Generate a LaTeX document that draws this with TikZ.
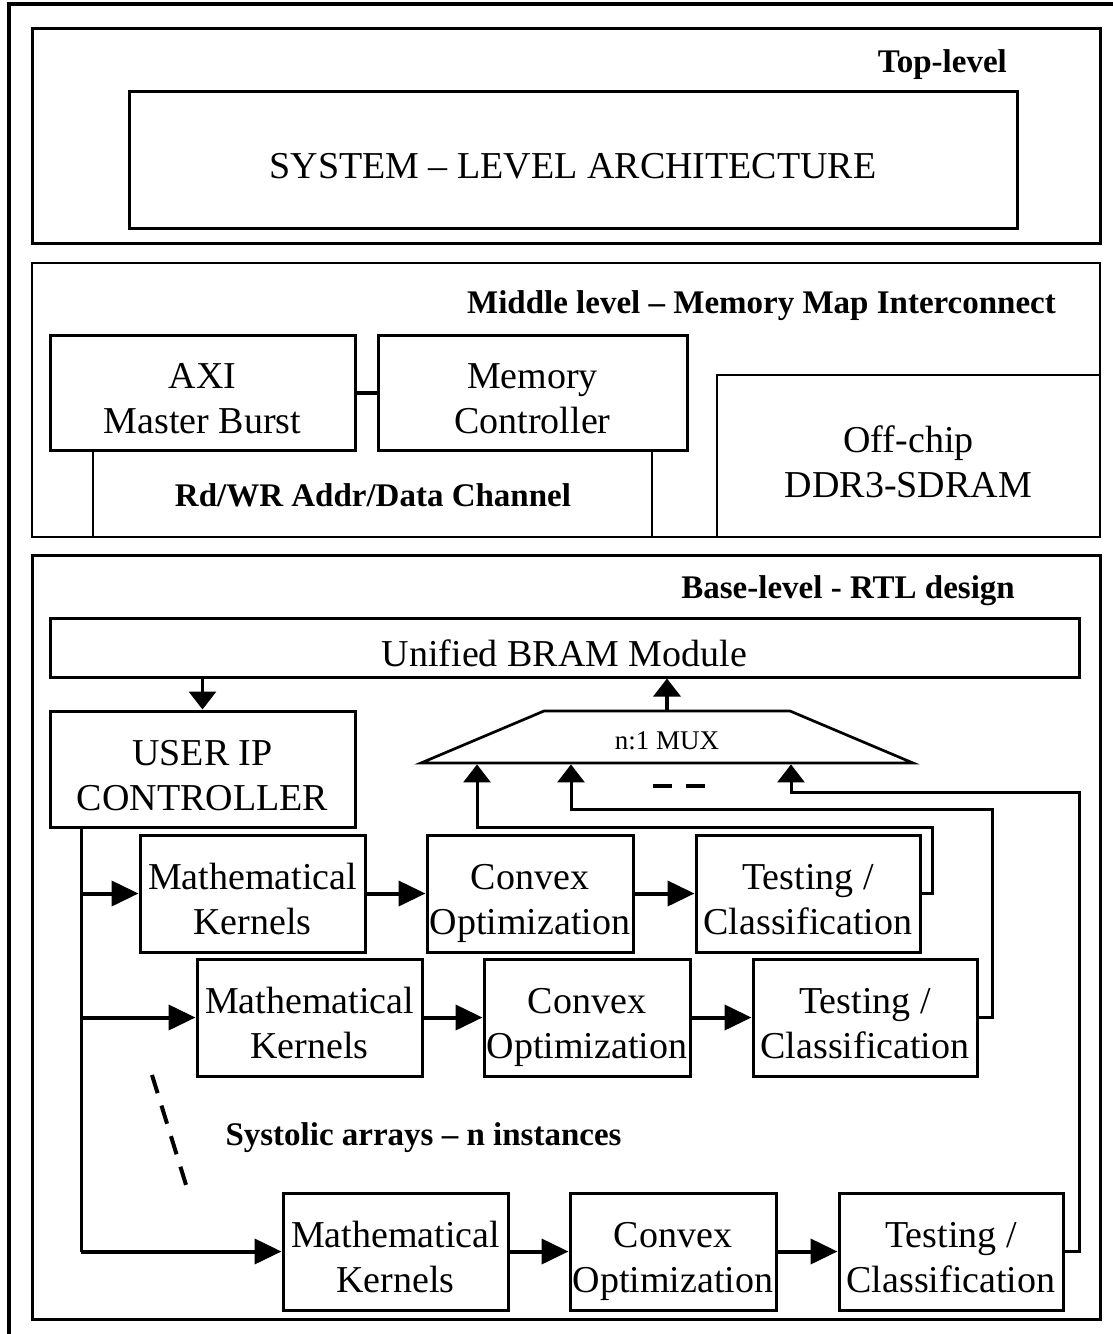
\documentclass[tikz,border=0pt]{standalone}
\usepackage{fontspec}
\setmainfont{Liberation Serif}
\usetikzlibrary{arrows.meta,positioning}
\tikzset{lvlbox/.style = {draw, line width=3pt, inner sep=0pt},
         blk/.style = {draw, line width=3pt, align=center, inner sep=0pt, minimum height=117pt,
                       text height=#1, text depth=0pt, font=\fontsize{38}{45}\selectfont},
         blk/.default = 82pt,
         title/.style = {inner sep=0pt, font=\fontsize{33}{40}\selectfont\bfseries},
         flow/.style = {line width=4pt, -{Triangle[length=27pt,width=25pt]}},
         fbline/.style = {line width=3pt},
         fbarrow/.style = {line width=3pt, -{Triangle[length=18pt,width=27pt]}},
         uparrow/.style = {line width=3.3pt, -{Triangle[length=18pt,width=27pt]}}}

\begin{document}
\begin{tikzpicture}[x=1pt,y=-1pt]
  \useasboundingbox (0,0) rectangle (1113,1334);
  \draw[line width=4pt] (9,1334) -- (9,4) -- (1113,4);

  \node[lvlbox, minimum width=1068pt, minimum height=215pt] (toplvl) at (566,135.5) {};
  \node[title, anchor=base east] (toplbl) at (1007,72) {Top-level};
  \node[blk=37pt, minimum width=888pt, minimum height=137pt] (sys) at (573,159.5) {SYSTEM – LEVEL ARCHITECTURE};

  \node[lvlbox, line width=2.7pt, minimum width=1068pt, minimum height=274pt] (mid) at (566,400) {};
  \node[title, anchor=base east] (midlbl) at (1056,313) {Middle level – Memory Map Interconnect};
  \node[blk, minimum width=305pt, minimum height=115pt] (axi) at (202.5,392.5) {AXI\\Master Burst};
  \node[blk, minimum width=309pt, minimum height=115pt] (memc) at (532.5,392.5) {Memory\\Controller};
  \node[blk, line width=2.7pt, minimum width=383pt, minimum height=162pt] (ddr) at (908.5,456) {Off-chip\\DDR3-SDRAM};
  \draw[line width=4pt] (axi) -- (memc);
  \draw[line width=2.7pt] (93,0 |- axi.south) -- (93,0 |- mid.south);
  \draw[line width=2.7pt] (652,0 |- memc.south) -- (652,0 |- mid.south);
  \node[title] (chan) at (373,495) {Rd/WR Addr/Data Channel};

  \node[lvlbox, minimum width=1068pt, minimum height=764pt] (base) at (566,937) {};
  \node[title, anchor=base east] (baselbl) at (1015,598) {Base-level - RTL design};
  \node[blk=37pt, minimum width=1029pt, minimum height=59pt] (bram) at (564.5,647.5) {Unified BRAM Module};
  \node[blk, minimum width=305pt, minimum height=116pt] (user) at (202.5,769) {USER IP\\CONTROLLER};

  \draw[line width=2.7pt] (421,763) -- (544,711) -- (790,711) -- (913,763) -- cycle;
  \node[inner sep=0pt, font=\fontsize{27}{32}\selectfont] (mux) at (667,741) {n:1 MUX};
  \coordinate (muxtop) at (667,711);
  \coordinate (in1) at (477,764.4);
  \coordinate (in2) at (571,764.4);
  \coordinate (in3) at (791,764.4);
  \draw[uparrow] (user.north |- bram.south) -- (user.north);
  \draw[uparrow] (muxtop) -- (muxtop |- bram.south);
  \draw[line width=4pt, dash pattern=on 19pt off 14pt] (653,786) -- (705,786);

  \node[blk, minimum width=225pt] (m1) at (252.5,893.5) {Mathematical\\Kernels};
  \node[blk, minimum width=206pt, right=59pt of m1] (c1) {Convex\\Optimization};
  \node[blk, minimum width=224pt, right=60pt of c1] (t1) {Testing /\\Classification};
  \node[blk, minimum width=225pt] (m2) at (309.5,1017.5) {Mathematical\\Kernels};
  \node[blk, minimum width=206pt, right=59pt of m2] (c2) {Convex\\Optimization};
  \node[blk, minimum width=224pt, right=60pt of c2] (t2) {Testing /\\Classification};
  \node[blk, minimum width=225pt] (m3) at (395.5,1251.5) {Mathematical\\Kernels};
  \node[blk, minimum width=206pt, right=59pt of m3] (c3) {Convex\\Optimization};
  \node[blk, minimum width=224pt, right=60pt of c3] (t3) {Testing /\\Classification};

  \draw[fbline] (81,0 |- user.south) -- (81,0 |- m3.west);
  \draw[flow] (81,0 |- m1.west) -- (m1.west);
  \draw[flow] (81,0 |- m2.west) -- (m2.west);
  \draw[flow] (81,0 |- m3.west) -- (m3.west);
  \draw[flow] (m1) -- (c1);
  \draw[flow] (c1) -- (t1);
  \draw[flow] (m2) -- (c2);
  \draw[flow] (c2) -- (t2);
  \draw[flow] (m3) -- (c3);
  \draw[flow] (c3) -- (t3);

  \draw[fbarrow] (t1.east) -| (932,827) -| (in1);
  \draw[fbarrow] (t2.east) -| (992,809) -| (in2);
  \draw[fbarrow] (t3.east) -| (1079,792) -| (in3);

  \draw[line width=4pt, dash pattern=on 19pt off 13pt] (152,1075) -- (187,1188);
  \node[title, anchor=base] (syslbl) at (423.5,1145) {Systolic arrays – n instances};
\end{tikzpicture}
\end{document}
